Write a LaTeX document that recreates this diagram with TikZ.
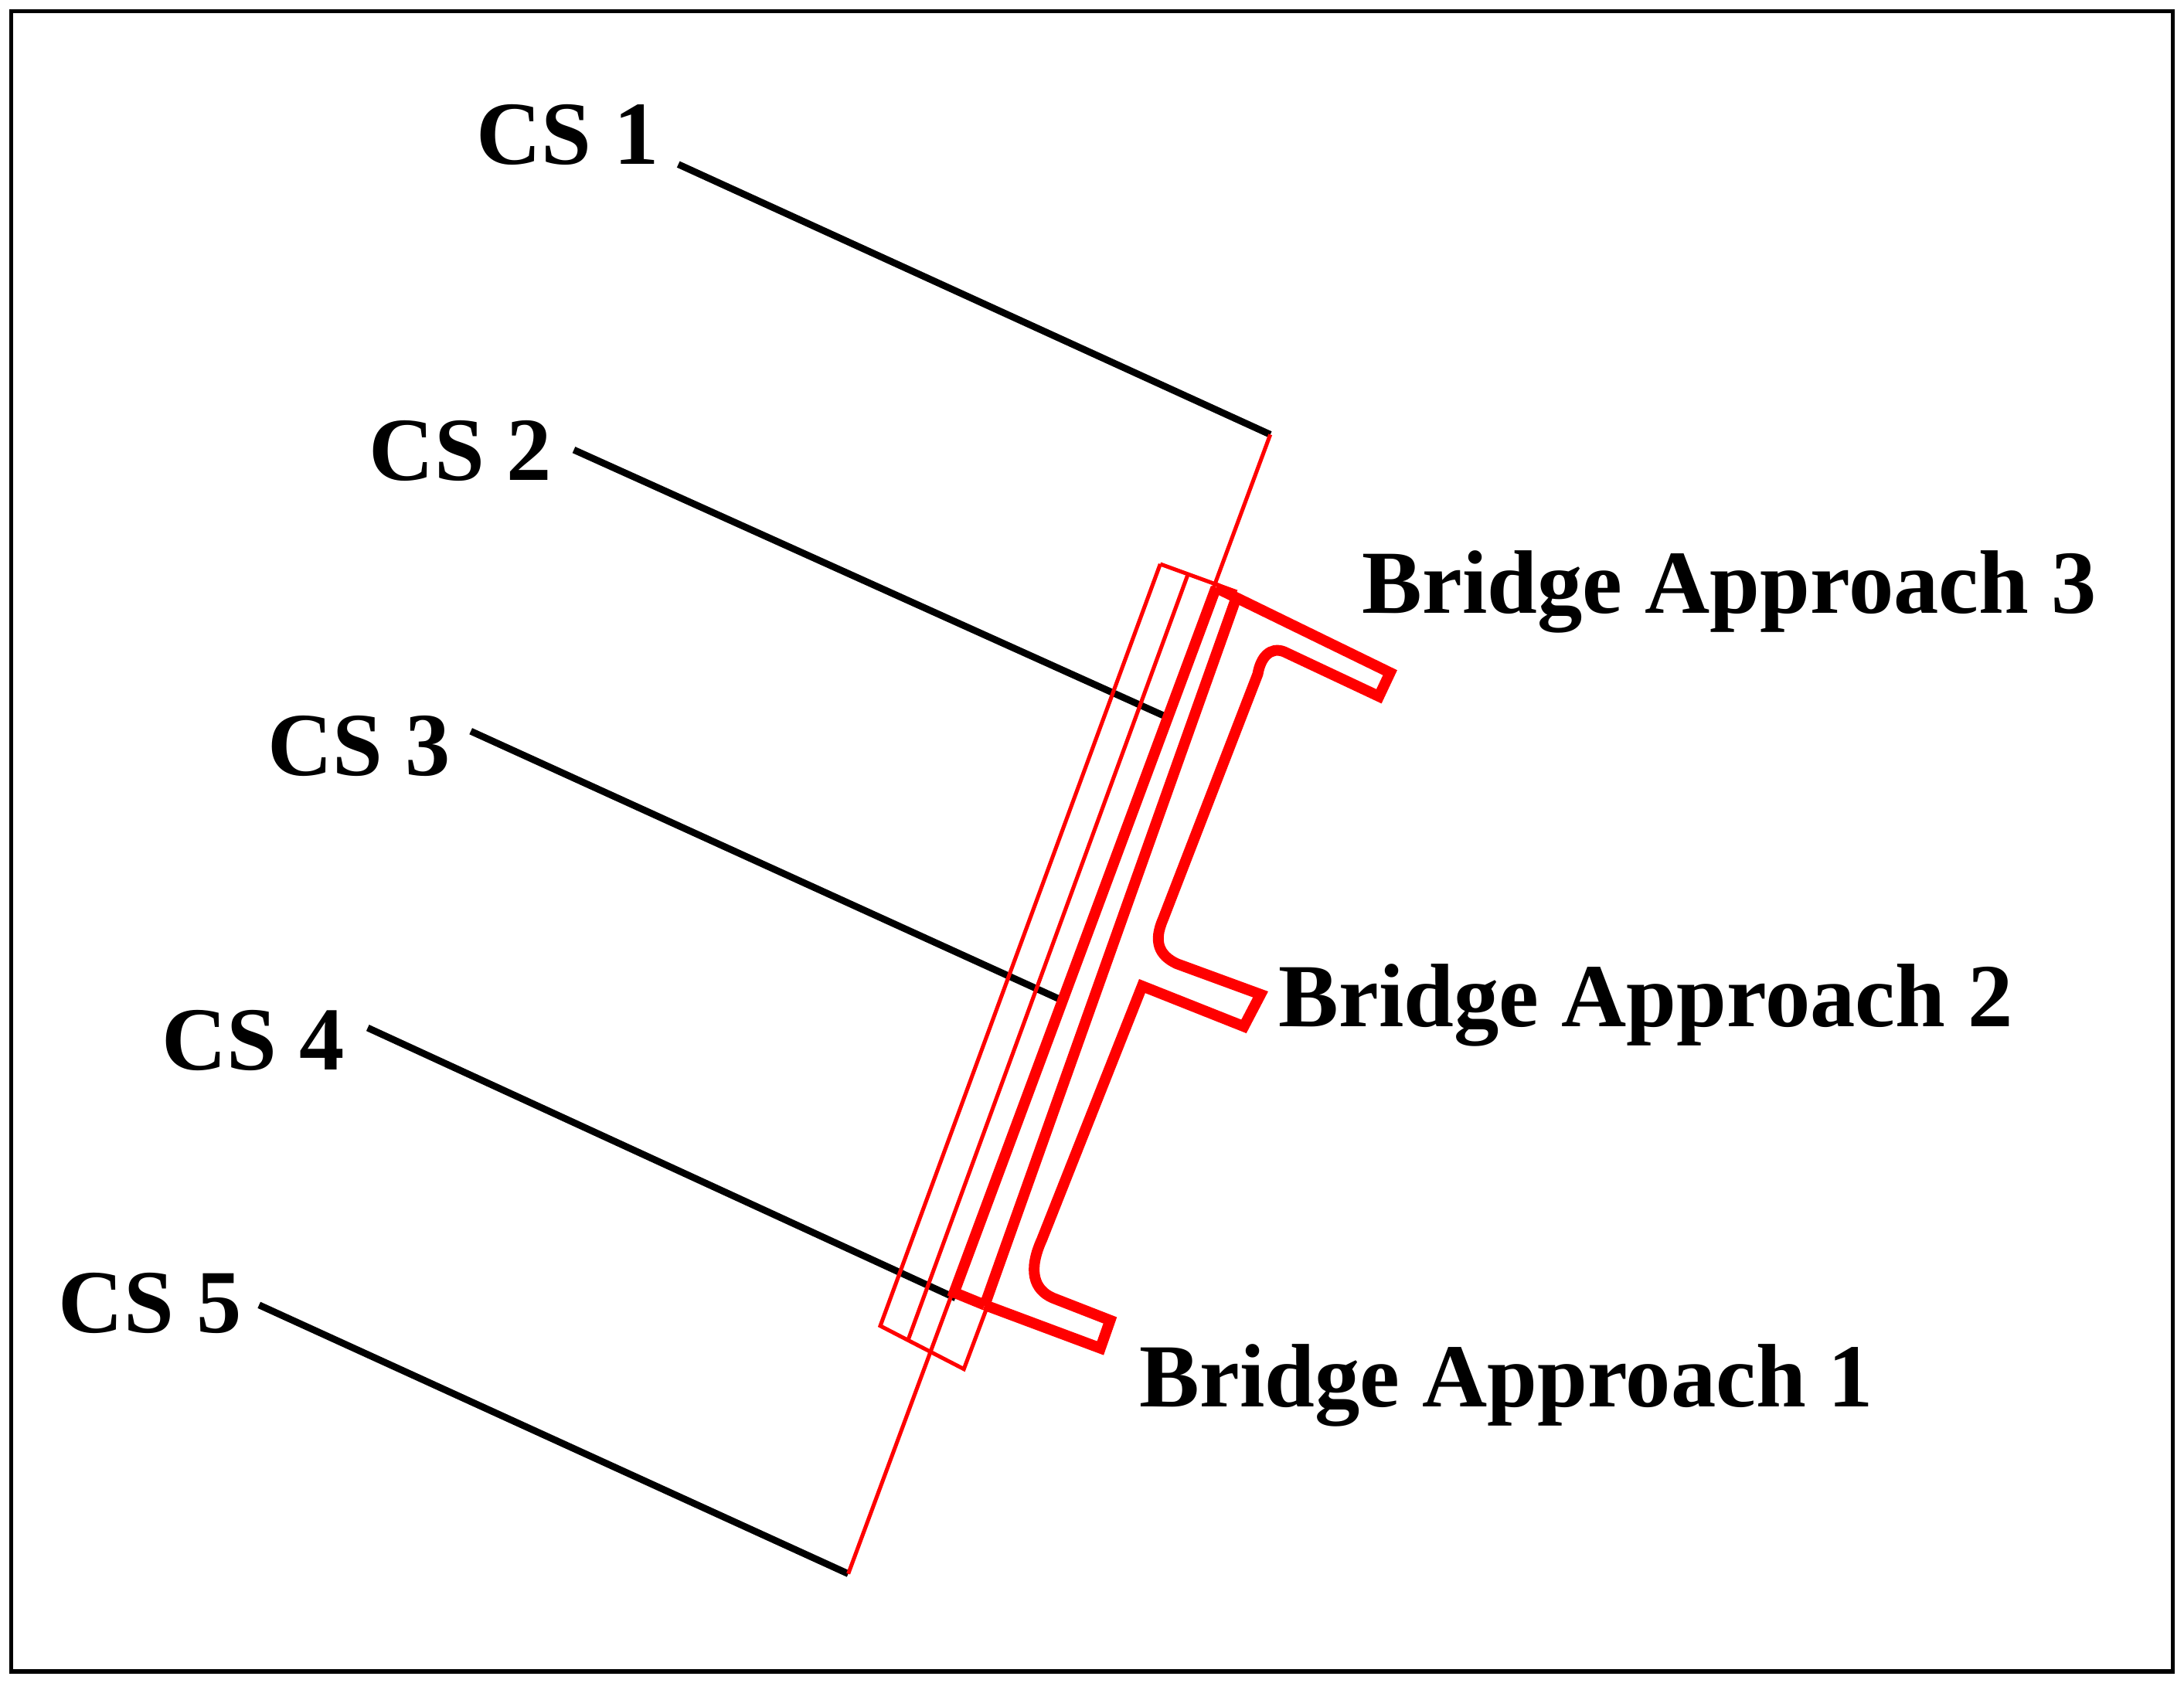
\documentclass[tikz,border=0pt]{standalone}
\usepackage{fontspec}
\setmainfont{Liberation Serif}
\usetikzlibrary{positioning}
\begin{document}
\begin{tikzpicture}[x=0.05cm,y=-0.05cm,
    lbl/.style={anchor=base west,font=\bfseries\fontsize{92}{106}\selectfont,inner sep=0pt},
    cs/.style={black,line width=7pt},
    thinred/.style={red,line width=4pt},
    thickred/.style={red,line width=11pt,line join=miter}]
\useasboundingbox (0,0) rectangle (1568,1213);
\draw[line width=4.5pt] (8,8) rectangle (1560,1200);
%% labels
\node[lbl] (cs1) at (342,118) {CS 1};
\node[lbl] (cs2) at (265,345) {CS 2};
\node[lbl] (cs3) at (192,557) {CS 3};
\node[lbl] (cs4) at (116,768) {CS 4};
\node[lbl] (cs5) at (42,957) {CS 5};
\node[lbl] (ba3) at (978,440) {Bridge Approach 3};
\node[lbl] (ba2) at (918,737) {Bridge Approach 2};
\node[lbl] (ba1) at (818,1010) {Bridge Approach 1};
%% cross sections
\coordinate (a1) at (487,118);  \coordinate (b1) at (912,312);
\coordinate (a2) at (412,323);  \coordinate (b2) at (838,515);
\coordinate (a3) at (338,525);  \coordinate (b3) at (762,718);
\coordinate (a4) at (264,738);  \coordinate (b4) at (686,932);
\coordinate (a5) at (186,937);  \coordinate (b5) at (609,1130);
\foreach \i in {1,...,5}{\draw[cs] (a\i) -- (b\i);}
%% axis and deck
\draw[thinred] (b1) -- (b5);
\draw[thinred] (833,405) -- (888,425);
\draw[thinred] (833,405) -- (632,952) -- (692,983) -- (710,935);
\draw[thinred] (853,412) -- (652,962);
\draw[thickred] (873,422) -- (685,928) -- (707,937);
\draw[thickred] (888,428) -- (707,937);
%% approach profile
\draw[thickred] (873,422) -- (998,483) -- (990,500) -- (922,468)
  .. controls (912,464) and (905,472) .. (903,484) -- (835,660)
  .. controls (828,676) and (832,686) .. (845,692) -- (905,714)
  -- (893,737) -- (820,708) -- (748,890)
  .. controls (738,912) and (742,926) .. (756,932) -- (797,948)
  -- (790,968) -- (707,937);
\end{tikzpicture}
\end{document}
